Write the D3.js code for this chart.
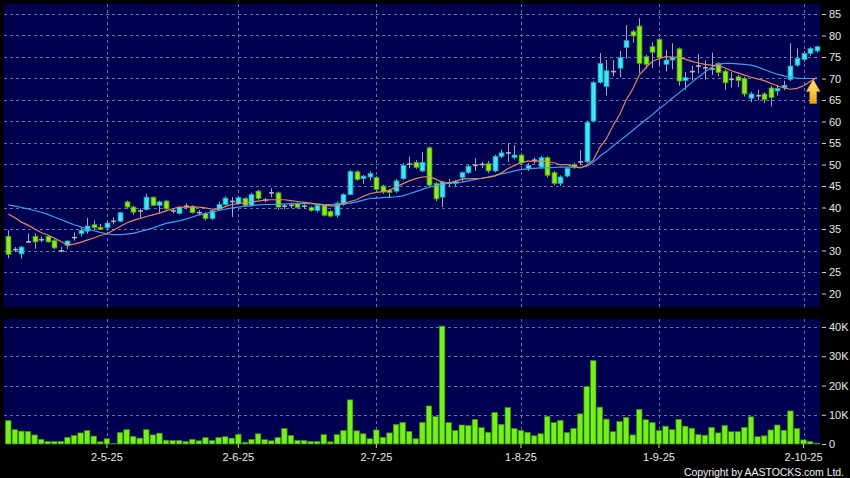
<!DOCTYPE html>
<html lang="en">
<head>
<meta charset="UTF-8">
<title>Candlestick Chart</title>
<script src="https://d3js.org/d3.v7.min.js"></script>
<style>
  body { margin: 0; background: #000; }
  svg text { font-family: "Liberation Sans", Arial, sans-serif; }
</style>
</head>
<body>
<div id="chart"></div>
<script>
// daily prices
const opens = [33.3,30.2,29.2,32.0,33.3,32.5,33.3,32.3,29.9,31.2,
  33.0,33.9,34.5,36.0,35.4,35.3,36.8,36.8,41.3,40.1,
  39.2,39.5,42.4,40.5,41.5,39.2,38.6,40.3,40.3,38.8,
  38.6,37.4,39.6,40.7,41.4,40.9,42.1,40.5,43.8,41.7,
  43.4,43.4,40.3,40.5,40.9,40.3,40.0,39.3,40.5,39.1,
  38.2,40.7,43.0,48.3,46.7,47.1,47.0,45.0,44.0,43.8,
  46.7,50.1,50.5,48.5,53.9,45.6,42.4,45.7,45.6,47.0,
  48.1,49.8,50.0,50.2,48.5,51.9,52.7,51.6,52.2,49.1,
  51.0,49.4,51.6,48.1,45.6,47.3,50.0,50.6,50.6,60.1,
  69.1,68.1,71.6,72.4,77.2,80.9,82.2,75.1,77.4,79.1,
  73.3,74.3,76.9,69.5,71.6,72.9,72.5,72.2,73.5,71.7,
  69.8,70.4,70.0,65.4,66.0,66.4,67.8,67.1,67.9,69.8,
  73.1,74.4,75.8,76.4];
const highs = [34.7,30.8,31.1,34.0,33.9,33.2,33.6,32.7,30.8,32.4,
  34.2,35.5,37.6,37.0,36.2,36.9,37.7,39.0,41.6,40.4,
  39.8,43.2,42.6,41.6,41.8,39.8,40.3,40.9,40.5,39.4,
  38.9,39.6,41.3,42.6,42.4,42.7,42.4,43.4,44.1,42.2,
  44.5,43.7,40.8,41.1,41.2,40.8,40.3,40.8,40.7,39.4,
  41.4,43.3,48.7,48.6,47.6,48.4,47.3,45.3,44.3,46.6,
  50.3,51.8,51.0,52.9,54.2,45.9,46.2,46.6,46.4,48.4,
  49.9,51.5,50.6,50.8,52.3,53.5,55.0,54.5,52.6,50.3,
  51.6,52.0,51.9,48.5,47.5,49.4,50.4,53.3,60.2,69.4,
  75.9,74.3,74.3,76.4,82.4,81.3,84.0,75.5,78.4,79.4,
  76.6,78.2,77.2,71.5,73.0,75.7,74.2,76.0,73.8,72.1,
  71.5,70.8,70.4,66.9,67.4,66.8,68.3,68.5,69.5,78.2,
  77.0,76.4,77.3,77.6];
const lows = [28.2,29.6,28.1,31.7,30.4,31.9,31.8,30.3,29.6,30.3,
  32.3,33.2,33.9,34.8,34.8,34.6,36.1,36.6,39.7,38.3,
  37.6,39.3,40.3,38.6,39.4,38.6,38.4,39.6,38.6,38.2,
  37.0,37.1,39.2,40.4,37.8,40.6,40.2,40.2,41.8,41.2,
  42.4,39.5,39.6,39.8,39.7,39.7,39.0,38.9,37.9,37.7,
  37.7,40.4,42.8,46.2,45.5,46.3,43.8,43.2,42.1,43.4,
  46.4,49.1,49.0,48.2,44.7,41.5,40.1,44.8,44.9,46.0,
  47.8,48.5,49.2,48.0,48.2,51.5,50.6,51.2,50.0,48.5,
  50.2,49.0,47.0,45.2,45.0,47.0,49.0,49.8,50.3,59.8,
  68.8,66.1,70.5,70.3,74.6,78.3,71.2,72.3,72.5,73.0,
  71.6,72.1,68.3,67.4,69.6,71.2,69.7,70.8,70.5,67.4,
  67.9,68.0,65.8,64.5,65.0,64.3,63.5,66.0,67.3,69.4,
  72.7,73.9,75.3,76.0];
const closes = [29.1,30.2,30.8,32.0,32.0,32.5,32.0,30.6,29.9,32.2,
  33.0,34.7,35.7,35.3,34.9,36.4,36.8,38.8,40.1,38.9,
  39.2,42.4,40.5,41.3,39.7,39.2,40.0,40.3,38.8,38.8,
  37.4,39.3,40.7,42.2,41.4,42.3,40.5,43.0,42.1,41.7,
  43.4,40.1,40.3,40.5,40.0,40.3,39.3,40.5,38.2,38.0,
  41.0,43.0,48.4,46.5,47.3,47.9,44.2,43.6,43.5,46.2,
  49.8,50.1,49.3,50.5,45.2,42.0,45.9,45.7,46.1,48.1,
  49.6,49.8,50.0,48.5,51.9,52.7,52.7,52.2,50.4,49.8,
  51.0,51.6,47.5,45.6,47.1,49.1,49.4,50.6,59.8,69.1,
  73.5,71.8,71.6,74.9,78.8,79.9,73.5,73.3,76.1,74.8,
  74.3,74.9,69.4,70.2,71.6,72.9,72.5,72.2,71.4,69.0,
  69.8,69.5,66.4,66.4,66.0,65.1,65.6,67.7,68.4,72.9,
  74.7,75.8,77.0,77.4];

// volume in thousands
const volumes = [8.0,4.9,4.4,4.3,3.1,1.6,0.85,0.9,0.9,2.3,
  2.9,3.8,4.6,2.7,0.75,1.8,0.2,3.9,4.9,2.6,
  2.0,4.9,3.1,3.7,1.3,1.2,1.2,0.9,1.6,1.1,
  2.2,1.2,2.2,2.5,2.0,3.3,0.6,1.6,3.5,1.5,
  1.1,2.2,5.3,2.9,1.2,1.2,0.9,0.9,3.2,0.75,
  3.2,4.6,15.1,4.5,3.5,1.8,4.8,2.3,3.8,6.7,
  7.4,4.3,1.8,7.4,13.0,9.4,40.3,7.3,4.6,6.5,
  6.3,8.4,5.6,4.0,10.8,6.7,12.5,5.3,4.6,4.0,
  2.8,3.5,9.4,7.3,8.1,3.9,5.3,10.3,19.6,28.5,
  12.6,8.5,4.2,7.7,9.1,3.1,11.8,8.3,7.3,4.6,
  6.1,4.9,8.4,6.1,5.4,3.2,3.0,5.7,3.8,6.3,
  4.2,4.2,5.7,9.3,2.5,2.8,4.8,6.5,4.7,11.3,
  5.3,1.4,0.85,0.3];

// moving averages as drawn (orange = short, blue = long)
const maShort = [38.5,37.6,36.6,35.9,35.0,34.2,33.6,32.9,32.1,31.3,
  31.5,31.9,32.4,32.9,33.5,33.9,34.7,35.6,36.4,37.0,
  37.4,37.9,38.3,38.7,39.2,39.7,40.1,40.1,40.1,40.1,
  39.9,39.6,39.6,40.2,40.7,40.9,41.1,41.3,41.5,41.7,
  41.8,41.8,41.8,41.6,41.4,41.2,41.0,40.8,40.6,40.4,
  40.4,41.0,41.4,41.8,42.6,43.2,43.5,43.7,44.0,44.8,
  45.5,46.2,46.7,47.1,47.2,46.6,45.9,45.7,46.1,46.6,
  46.7,46.7,46.8,47.0,47.3,48.0,49.0,49.8,50.4,50.8,
  50.8,50.8,50.7,50.4,49.9,50.0,49.5,49.2,49.8,51.0,
  54.0,56.0,59.0,61.5,65.0,67.5,70.8,72.5,74.0,74.6,
  75.1,75.0,74.9,74.5,74.0,73.6,73.3,73.1,73.0,72.5,
  71.8,71.3,70.8,70.3,69.9,69.5,68.9,68.3,67.8,67.5,
  67.7,68.3,69.3,70.2];
const maLong = [40.6,40.3,40.0,39.7,39.3,38.9,38.4,37.8,37.2,36.6,
  36.0,35.5,35.0,34.6,34.2,33.9,33.7,33.7,33.8,34.0,
  34.4,34.8,35.2,35.8,36.3,36.6,36.9,37.3,37.8,38.3,
  38.6,38.9,39.3,39.6,39.9,40.1,40.3,40.4,40.6,40.7,
  40.7,40.8,40.8,40.9,40.9,40.9,40.9,40.8,40.7,40.7,
  40.8,40.9,41.0,41.3,41.7,42.1,42.2,42.3,42.4,42.5,
  42.7,43.2,43.7,44.2,44.7,45.1,45.4,45.6,45.7,45.9,
  46.2,46.5,46.8,47.1,47.4,47.8,48.1,48.5,48.8,49.0,
  49.1,49.2,49.2,49.3,49.4,49.4,49.4,49.3,49.6,50.5,
  51.9,53.0,54.3,55.5,56.7,57.9,59.2,60.4,61.6,62.9,
  64.1,65.4,66.6,67.8,69.1,70.3,71.5,72.6,73.3,73.5,
  73.5,73.4,73.3,73.1,72.7,72.1,71.5,71.0,70.6,70.3,
  70.1,70.0,70.0,70.0];

const dateTickIndex = [15, 35, 56, 78, 99, 121];
const dateTickLabels = ["2-5-25", "2-6-25", "2-7-25", "1-8-25", "1-9-25", "2-10-25"];
const priceTicks = [20, 25, 30, 35, 40, 45, 50, 55, 60, 65, 70, 75, 80, 85];
const volumeTicks = [0, 10, 20, 30, 40];

const W = 850, H = 478;
const main = { left: 4, right: 820, top: 4, bottom: 307 };
const vol = { top: 319, bottom: 444 };
const N = closes.length;

const svg = d3.select('#chart').append('svg')
  .attr('width', W).attr('height', H)
  .style('display', 'block')
  .style('background', '#000');

// scales
const x = d3.scaleBand().domain(d3.range(N)).range([5, main.right]).padding(0);
const cx = i => x(i) + x.bandwidth() / 2;
const y = d3.scaleLinear().domain([20, 85]).range([293.5, 14]);
const yv = d3.scaleLinear().domain([0, 40]).range([vol.bottom, 327]);

// panels
svg.append('rect').attr('x', main.left).attr('y', main.top)
  .attr('width', main.right - main.left).attr('height', main.bottom - main.top)
  .attr('fill', '#000050');
svg.append('rect').attr('x', main.left).attr('y', vol.top)
  .attr('width', main.right - main.left).attr('height', vol.bottom - vol.top)
  .attr('fill', '#000050');

// grid
const gridColor = '#6e6ea6';
const grid = svg.append('g').attr('stroke', gridColor).attr('stroke-width', 1)
  .attr('stroke-dasharray', '3,3').attr('shape-rendering', 'crispEdges');
grid.selectAll('.hp').data(priceTicks).enter().append('line')
  .attr('x1', main.left).attr('x2', main.right)
  .attr('y1', d => Math.round(y(d)) + 0.5).attr('y2', d => Math.round(y(d)) + 0.5);
grid.selectAll('.hv').data(volumeTicks.slice(1)).enter().append('line')
  .attr('x1', main.left).attr('x2', main.right)
  .attr('y1', d => Math.round(yv(d)) + 0.5).attr('y2', d => Math.round(yv(d)) + 0.5);
dateTickIndex.forEach(i => {
  const gx = Math.round(cx(i)) + 0.5;
  grid.append('line').attr('x1', gx).attr('x2', gx).attr('y1', main.top).attr('y2', main.bottom);
  grid.append('line').attr('x1', gx).attr('x2', gx).attr('y1', vol.top).attr('y2', vol.bottom);
});

// candles
const bodyW = x.step() * 0.74;
const candles = svg.append('g');
d3.range(N).forEach(i => {
  const o = opens[i], c = closes[i];
  const xc = Math.round(cx(i)) + 0.5;
  candles.append('line')
    .attr('x1', xc).attr('x2', xc)
    .attr('y1', y(highs[i])).attr('y2', y(lows[i]))
    .attr('stroke', '#a8a8b0').attr('stroke-width', 1);
  if (Math.abs(c - o) < 0.15) {
    candles.append('line')
      .attr('x1', xc - bodyW / 2).attr('x2', xc + bodyW / 2)
      .attr('y1', y(c)).attr('y2', y(c))
      .attr('stroke', '#b4b4b4').attr('stroke-width', 1.6);
  } else {
    const up = c > o;
    const top = y(Math.max(o, c)), bot = y(Math.min(o, c));
    candles.append('rect')
      .attr('x', xc - bodyW / 2).attr('y', top)
      .attr('width', bodyW).attr('height', Math.max(1.5, bot - top))
      .attr('fill', up ? '#3ee6f6' : '#86ee1e')
      .attr('stroke', up ? '#1a9fb4' : '#4f9a12')
      .attr('stroke-width', 0.8);
  }
});

// moving averages
const line = d3.line().x((d, i) => cx(i)).y(d => y(d));
svg.append('path').datum(maLong)
  .attr('fill', 'none').attr('stroke', '#3c9ef0').attr('stroke-width', 1.2)
  .attr('d', line);
svg.append('path').datum(maShort)
  .attr('fill', 'none').attr('stroke', '#e4875a').attr('stroke-width', 1.2)
  .attr('d', line);

// volume bars
const volW = x.step() * 0.84;
svg.append('g').selectAll('rect').data(volumes).enter().append('rect')
  .attr('x', (d, i) => cx(i) - volW / 2)
  .attr('y', d => yv(d))
  .attr('width', volW)
  .attr('height', d => vol.bottom - yv(d))
  .attr('fill', '#74f01a')
  .attr('stroke', '#3b8a0a').attr('stroke-width', 0.7);

// signal arrow at the end of the averages
const defs = svg.append('defs');
const grad = defs.append('linearGradient').attr('id', 'arrowGrad')
  .attr('x1', 0).attr('y1', 0).attr('x2', 0).attr('y2', 1);
grad.append('stop').attr('offset', '0%').attr('stop-color', '#ffe98a');
grad.append('stop').attr('offset', '100%').attr('stop-color', '#f0a010');
const ax = cx(N - 1) - 3.5, ay = y(maLong[N - 1]) + 1;
svg.append('path')
  .attr('d', `M${ax},${ay} L${ax + 7},${ay + 12} L${ax + 3.5},${ay + 12} L${ax + 3.5},${ay + 24}
    L${ax - 3.5},${ay + 24} L${ax - 3.5},${ay + 12} L${ax - 7},${ay + 12} Z`)
  .attr('fill', 'url(#arrowGrad)').attr('stroke', '#c98200').attr('stroke-width', 0.6);

// axes
function styleAxis(g) {
  g.select('.domain').remove();
  g.selectAll('.tick line').attr('stroke', '#d0d0d0');
  g.selectAll('.tick text').attr('fill', '#e8e8e8').attr('font-size', 11);
}
svg.append('g')
  .attr('transform', `translate(822,0)`)
  .call(d3.axisRight(y).tickValues(priceTicks).tickSize(4).tickPadding(3))
  .call(styleAxis);
svg.append('g')
  .attr('transform', `translate(822,0)`)
  .call(d3.axisRight(yv).tickValues(volumeTicks).tickSize(4).tickPadding(3)
    .tickFormat(d => d === 0 ? '0' : d + 'K'))
  .call(styleAxis);
svg.append('g')
  .attr('transform', `translate(0,${vol.bottom})`)
  .call(d3.axisBottom(x).tickValues(dateTickIndex).tickSize(4).tickPadding(5)
    .tickFormat((d, k) => dateTickLabels[k]))
  .call(styleAxis);

svg.append('text')
  .attr('x', 684).attr('y', 475.5)
  .attr('fill', '#f0f0f0').attr('font-size', 10.5)
  .attr('textLength', 160).attr('lengthAdjust', 'spacing')
  .text('Copyright by AASTOCKS.com Ltd.');
</script>
</body>
</html>
